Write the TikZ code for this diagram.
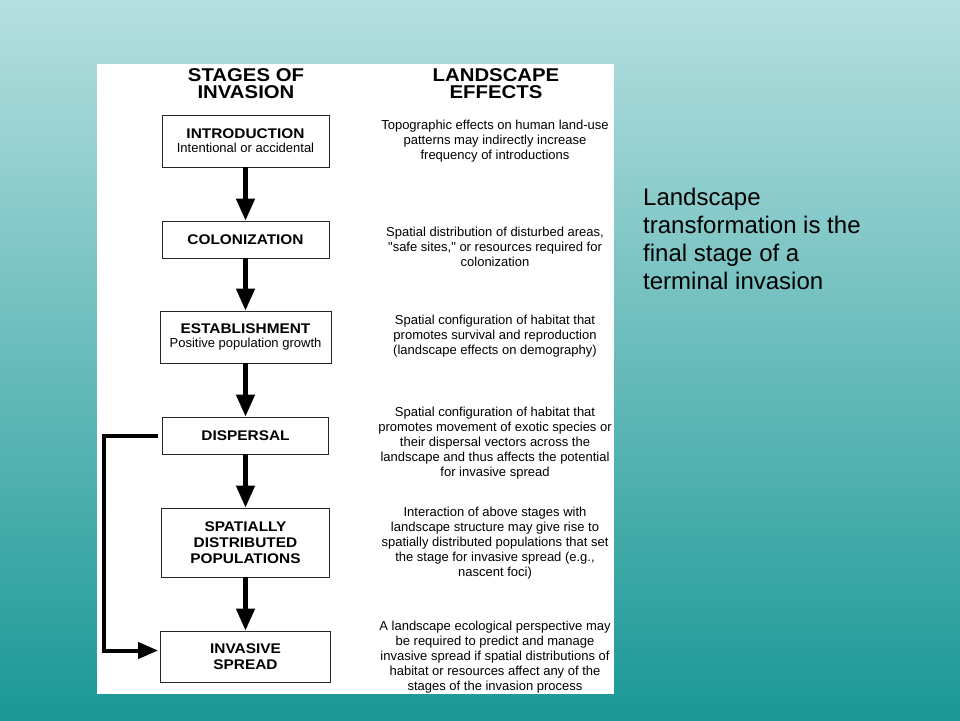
\documentclass[tikz,border=0pt]{standalone}
\usepackage{fontspec}
\setmainfont{Liberation Sans}
\newfontfamily\widesans[FakeStretch=1.1]{Liberation Sans}
\newfontfamily\plainsans[Ligatures=TeXOff]{Liberation Sans}
\usetikzlibrary{arrows.meta, positioning}
\definecolor{slidetop}{RGB}{182,223,223}
\definecolor{slidemid}{RGB}{110,188,186}
\definecolor{slidebottom}{RGB}{26,152,150}
\tikzset{
	stagenode/.style={
			shape=rectangle,
			draw=black!85,
			line width=0.8pt,
			fill=white,
			align=center,
			inner sep=0pt,
			minimum width=168pt,
			font=\widesans\bfseries\fontsize{14}{16}\selectfont
		},
	shortstage/.style={
			stagenode,
			minimum height=37pt
		},
	tallstage/.style={
			stagenode,
			minimum height=52pt
		}
}
\tikzset{
	headtext/.style={align=center, inner sep=0pt, font=\widesans\bfseries\fontsize{18.5}{17}\selectfont},
	effecttext/.style={align=center, inner sep=0pt, font=\plainsans\fontsize{13}{15}\selectfont},
	sidetext/.style={align=left, anchor=north west, inner sep=0pt, font=\fontsize{24}{28}\selectfont}
}
\tikzset{
	flowarrow/.style={line width=4.5pt, -{Triangle[length=22pt, width=18pt]}},
	backarrow/.style={line width=4pt, line join=miter, -{Triangle[length=20pt, width=16pt]}}
}

\begin{document}
\begin{tikzpicture}[x=1pt, y=-1pt]
	\shade[top color=slidetop, middle color=slidemid, bottom color=slidebottom] (0,0) rectangle (960,720);
	\useasboundingbox (0,0) rectangle (960,720);
	\fill[white] (97,64) rectangle (614,694);

	\node[headtext] (hstage) at (246,83.5) {STAGES OF\\INVASION};
	\node[headtext] (heffect) at (496,83.5) {LANDSCAPE\\EFFECTS};

	\node[tallstage, minimum width=167pt] (s1) at (245.5,141) {INTRODUCTION\\[-2pt]{\normalfont\fontsize{13}{14}\selectfont Intentional or accidental}};
	\node[shortstage, minimum width=167pt] (s2) at (245.5,239.5) {COLONIZATION};
	\node[tallstage, minimum width=171pt] (s3) at (245.5,337) {ESTABLISHMENT\\[-2pt]{\normalfont\fontsize{13}{14}\selectfont Positive population growth}};
	\node[shortstage, minimum width=166pt] (s4) at (245.5,435.5) {DISPERSAL};
	\node[stagenode, minimum height=69pt] (s5) at (245.5,542.5) {SPATIALLY\\DISTRIBUTED\\POPULATIONS};
	\node[stagenode, minimum height=51pt, minimum width=170pt] (s6) at (245.5,656.5) {INVASIVE\\SPREAD};

	\node[effecttext] (e1) at (495,141) {Topographic effects on human land-use\\patterns may indirectly increase\\frequency of introductions};
	\node[effecttext] (e2) at (495,247) {Spatial distribution of disturbed areas,\\"safe sites," or resources required for\\colonization};
	\node[effecttext] (e3) at (495,336) {Spatial configuration of habitat that\\promotes survival and reproduction\\(landscape effects on demography)};
	\node[effecttext] (e4) at (495,443) {Spatial configuration of habitat that\\promotes movement of exotic species or\\their dispersal vectors across the\\landscape and thus affects the potential\\for invasive spread};
	\node[effecttext] (e5) at (495,543) {Interaction of above stages with\\landscape structure may give rise to\\spatially distributed populations that set\\the stage for invasive spread (e.g.,\\nascent foci)};
	\node[effecttext] (e6) at (495,657) {A landscape ecological perspective may\\be required to predict and manage\\invasive spread if spatial distributions of\\habitat or resources affect any of the\\stages of the invasion process};

	\node[sidetext] (note) at (643,188) {Landscape\\transformation is the\\final stage of a\\terminal invasion};

	\draw[flowarrow] (s1) edge (s2);
	\draw[flowarrow] (s2) edge (s3);
	\draw[flowarrow] (s3) edge (s4);
	\draw[flowarrow] (s4) edge (s5);
	\draw[flowarrow] (s5) edge (s6);
	\draw[backarrow] ([xshift=-4pt]s4.west) -- ++(-54,0) |- ([xshift=-2pt, yshift=6pt]s6.west);

\end{tikzpicture}
\end{document}
